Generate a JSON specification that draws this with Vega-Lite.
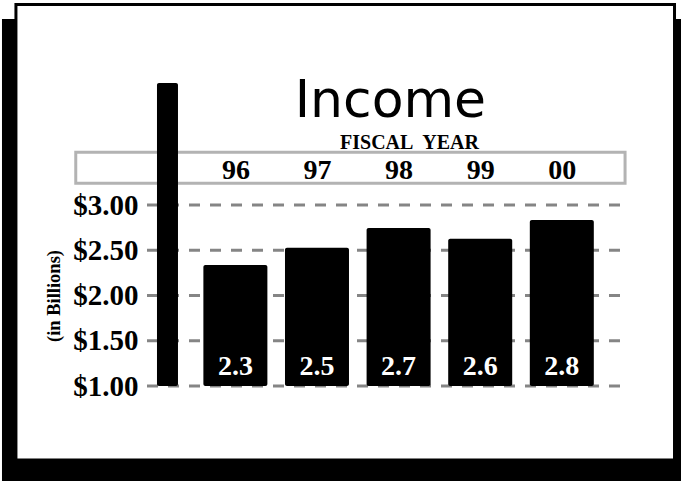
{
  "$schema": "https://vega.github.io/schema/vega-lite/v6.json",
  "autosize": {"type": "none"},
  "padding": {"left": 147, "top": 205, "right": 61, "bottom": 95},
  "width": 473,
  "height": 181,
  "background": "white",
  "config": {"view": {"stroke": null}},
  "datasets": {
    "income": [
      {"year": 1996, "income": 2.337, "label": "2.3"},
      {"year": 1997, "income": 2.528, "label": "2.5"},
      {"year": 1998, "income": 2.746, "label": "2.7"},
      {"year": 1999, "income": 2.628, "label": "2.6"},
      {"year": 2000, "income": 2.834, "label": "2.8"}
    ],
    "grid": [{"level": 1}, {"level": 1.5}, {"level": 2}, {"level": 2.5}, {"level": 3}],
    "one": [{}]
  },
  "layer": [
    {
      "data": {"name": "one"},
      "mark": {"type": "rect", "color": "black"},
      "encoding": {
        "x": {"datum": 1993.14, "type": "quantitative", "scale": {"domain": [1994.917, 2000.713], "nice": false, "zero": false, "padding": 0}},
        "x2": {"datum": 2001.6},
        "y": {"datum": 5.055, "type": "quantitative", "scale": {"domain": [1, 3], "nice": false, "zero": false}},
        "y2": {"datum": -0.1}
      }
    },
    {
      "data": {"name": "one"},
      "mark": {"type": "rect", "fill": "white", "stroke": "black", "strokeWidth": 3},
      "encoding": {
        "x": {"datum": 1993.311, "type": "quantitative", "scale": {"domain": [1994.917, 2000.713], "nice": false, "zero": false, "padding": 0}},
        "x2": {"datum": 2001.381},
        "y": {"datum": 5.2155, "type": "quantitative", "scale": {"domain": [1, 3], "nice": false, "zero": false}},
        "y2": {"datum": 0.1823}
      }
    },
    {
      "data": {"name": "grid"},
      "mark": {"type": "rule", "color": "#858585", "strokeWidth": 3, "strokeDash": [11, 10]},
      "encoding": {
        "y": {"field": "level", "type": "quantitative", "scale": {"domain": [1, 3], "nice": false, "zero": false}}
      }
    },
    {
      "data": {"name": "one"},
      "mark": {"type": "rect", "filled": false, "stroke": "#b3b3b3", "strokeWidth": 3},
      "encoding": {
        "x": {"datum": 1994.044, "type": "quantitative", "scale": {"domain": [1994.917, 2000.713], "nice": false, "zero": false, "padding": 0}},
        "x2": {"datum": 2000.775},
        "y": {"datum": 3.583, "type": "quantitative", "scale": {"domain": [1, 3], "nice": false, "zero": false}},
        "y2": {"datum": 3.241}
      }
    },
    {
      "data": {"name": "income"},
      "mark": {"type": "bar", "color": "black", "width": 64, "cornerRadius": 2},
      "encoding": {
        "x": {
          "field": "year", "type": "quantitative",
          "scale": {"domain": [1994.917, 2000.713], "nice": false, "zero": false, "padding": 0},
          "axis": {
            "orient": "top", "values": [1996, 1997, 1998, 1999, 2000],
            "labelExpr": "slice(toString(datum.value), 2)",
            "grid": false, "domain": false, "ticks": false, "tickSize": 0,
            "labelPadding": 27, "labelBaseline": "alphabetic",
            "labelFont": "Liberation Serif", "labelFontWeight": "bold", "labelFontSize": 28, "labelColor": "black",
            "labelFlush": false, "labelOverlap": false,
            "title": "FISCAL \u00a0YEAR", "titleFont": "Liberation Serif", "titleFontWeight": "bold", "titleFontSize": 20, "titleColor": "black",
            "titleX": 262, "titleY": -57, "titleBaseline": "alphabetic", "titleAlign": "center", "titleAngle": 0,
            "zindex": 1
          }
        },
        "y": {
          "field": "income", "type": "quantitative",
          "scale": {"domain": [1, 3], "nice": false, "zero": false},
          "axis": {
            "values": [1, 1.5, 2, 2.5, 3], "format": "$.2f",
            "grid": false, "domain": false, "ticks": false, "tickSize": 0, "labelPadding": 9,
            "labelFont": "Liberation Serif", "labelFontWeight": "bold", "labelFontSize": 29, "labelColor": "black",
            "labelFlush": false, "labelOverlap": false,
            "title": "(in Billions)", "titleFont": "Liberation Serif", "titleFontWeight": "bold", "titleFontSize": 18.5, "titleColor": "black",
            "titlePadding": 9, "zindex": 1
          }
        },
        "y2": {"datum": 1}
      }
    },
    {
      "data": {"name": "one"},
      "mark": {"type": "bar", "color": "black", "width": 21, "cornerRadius": 2},
      "encoding": {
        "x": {"datum": 1995.168, "type": "quantitative", "scale": {"domain": [1994.917, 2000.713], "nice": false, "zero": false, "padding": 0}},
        "y": {"datum": 4.348, "type": "quantitative", "scale": {"domain": [1, 3], "nice": false, "zero": false}},
        "y2": {"datum": 1}
      }
    },
    {
      "data": {"name": "income"},
      "mark": {"type": "text", "color": "white", "font": "Liberation Serif", "fontWeight": "bold", "fontSize": 28, "baseline": "alphabetic", "align": "center", "dy": -11},
      "encoding": {
        "x": {"field": "year", "type": "quantitative", "scale": {"domain": [1994.917, 2000.713], "nice": false, "zero": false, "padding": 0}},
        "y": {"datum": 1, "type": "quantitative", "scale": {"domain": [1, 3], "nice": false, "zero": false}},
        "text": {"field": "label"}
      }
    },
    {
      "data": {"name": "one"},
      "mark": {"type": "text", "text": "Income", "color": "black", "font": "DejaVu Sans", "fontSize": 52, "baseline": "alphabetic", "align": "center"},
      "encoding": {
        "x": {"datum": 1997.9, "type": "quantitative", "scale": {"domain": [1994.917, 2000.713], "nice": false, "zero": false, "padding": 0}},
        "y": {"datum": 3.976, "type": "quantitative", "scale": {"domain": [1, 3], "nice": false, "zero": false}}
      }
    }
  ]
}
